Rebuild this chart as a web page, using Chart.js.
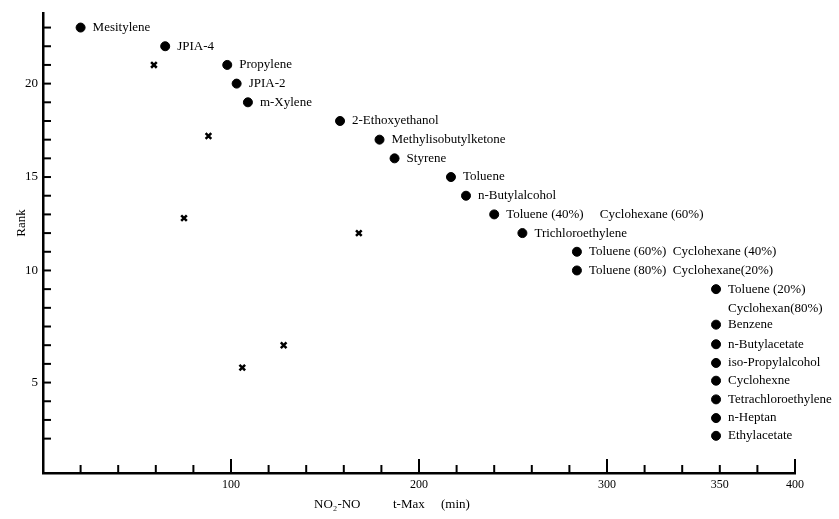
<!DOCTYPE html>
<html>
<head>
<meta charset="utf-8">
<script src="https://cdn.jsdelivr.net/npm/chart.js@4"></script>
<style>
  html, body { margin: 0; padding: 0; background: #fff; }
</style>
</head>
<body>
<canvas id="rank-chart" width="839" height="519"></canvas>
<script>
// solvents ranked by NO2-NO t-Max
const solvents = [
    'Mesitylene', 'JPIA-4', 'Propylene', 'JPIA-2', 'm-Xylene',
    '2-Ethoxyethanol', 'Methylisobutylketone', 'Styrene', 'Toluene', 'n-Butylalcohol',
    'Toluene (40%)     Cyclohexane (60%)', 'Trichloroethylene',
    'Toluene (60%)  Cyclohexane (40%)', 'Toluene (80%)  Cyclohexane(20%)',
    'Toluene (20%)\nCyclohexan(80%)', 'Benzene', 'n-Butylacetate', 'iso-Propylalcohol',
    'Cyclohexne', 'Tetrachloroethylene', 'n-Heptan', 'Ethylacetate'
];
const tMax = [20, 65, 98, 103, 109, 158, 179, 187, 217, 225, 240, 255, 284, 284, 358, 358, 358, 358, 358, 358, 358, 358];
const rank = [23, 22, 21, 20, 19, 18, 17, 16, 15, 14, 13, 12, 11, 10, 9, 7.1, 6.05, 5.05, 4.1, 3.1, 2.1, 1.15];

// the x marks
const crossT = [59, 88, 75, 168, 128, 106];
const crossRank = [21, 17.2, 12.8, 12, 6, 4.8];

const xTickValues = [100, 200, 300, 360, 400];
const xTickLabels = ['100', '200', '300', '350', '400'];
const xMarks = [20, 40, 60, 80, 100, 120, 140, 160, 180, 200, 220, 240, 260, 280, 300, 320, 340, 360, 380, 400];
const yTickValues = [4, 10, 15, 20];
const yTickLabels = ['5', '10', '15', '20'];
const yMarks = [1, 2, 3, 4, 5, 6, 7, 8, 9, 10, 11, 12, 13, 14, 15, 16, 17, 18, 19, 20, 21, 22, 23];

Chart.defaults.font.family = '"Liberation Serif", "DejaVu Serif", serif';
Chart.defaults.font.size = 12;
Chart.defaults.color = '#000';

// inward tick marks, point labels and axis titles
const inkPlugin = {
    id: 'ink',
    afterDraw(chart) {
        const ctx = chart.ctx;
        const xs = chart.scales.x, ys = chart.scales.y;
        const area = chart.chartArea;
        ctx.save();
        ctx.strokeStyle = '#000';
        ctx.lineWidth = 2;
        xMarks.forEach(v => {
            const px = xs.getPixelForValue(v);
            const len = v % 100 === 0 ? 14 : 8;
            ctx.beginPath();
            ctx.moveTo(px, area.bottom);
            ctx.lineTo(px, area.bottom - len);
            ctx.stroke();
        });
        yMarks.forEach(v => {
            const py = ys.getPixelForValue(v);
            ctx.beginPath();
            ctx.moveTo(area.left, py);
            ctx.lineTo(area.left + 8, py);
            ctx.stroke();
        });

        ctx.fillStyle = '#000';
        ctx.font = '13px "Liberation Serif", serif';
        ctx.textBaseline = 'middle';
        ctx.textAlign = 'left';
        chart.getDatasetMeta(0).data.forEach((pt, i) => {
            solvents[i].split('\n').forEach((line, k) => {
                ctx.fillText(line, pt.x + 12, pt.y + k * 19);
            });
        });

        ctx.textAlign = 'center';
        ctx.fillText('NO\u2082-NO          t-Max     (min)', 392, 505);
        ctx.translate(22, 223);
        ctx.rotate(-Math.PI / 2);
        ctx.fillText('Rank', 0, 0);
        ctx.restore();
    }
};

new Chart(document.getElementById('rank-chart').getContext('2d'), {
    type: 'scatter',
    data: {
        datasets: [
            {
                data: tMax.map((t, i) => ({ x: t, y: rank[i] })),
                pointStyle: 'circle',
                pointRadius: 4.5,
                backgroundColor: '#000',
                borderColor: '#000'
            },
            {
                data: crossT.map((t, i) => ({ x: t, y: crossRank[i] })),
                pointStyle: 'crossRot',
                pointRadius: 4,
                borderWidth: 2.5,
                borderColor: '#000'
            }
        ]
    },
    options: {
        responsive: false,
        animation: false,
        layout: { padding: { top: 5, right: 44, left: 0, bottom: 0 } },
        plugins: { legend: { display: false }, tooltip: { enabled: false } },
        scales: {
            x: {
                type: 'linear',
                min: 0,
                max: 400,
                afterBuildTicks: scale => { scale.ticks = xTickValues.map(v => ({ value: v })); },
                afterFit: scale => { scale.height = 46; },
                ticks: {
                    padding: 5,
                    maxRotation: 0,
                    autoSkip: false,
                    callback: v => xTickLabels[xTickValues.indexOf(v)]
                },
                grid: { drawOnChartArea: false, drawTicks: false },
                border: { color: '#000', width: 2.5 }
            },
            y: {
                type: 'linear',
                min: -0.84,
                max: 23.79,
                afterBuildTicks: scale => { scale.ticks = yTickValues.map(v => ({ value: v })); },
                afterFit: scale => { scale.width = 43; },
                ticks: {
                    padding: 5,
                    autoSkip: false,
                    font: { size: 13 },
                    callback: v => yTickLabels[yTickValues.indexOf(v)]
                },
                grid: { drawOnChartArea: false, drawTicks: false },
                border: { color: '#000', width: 2.5 }
            }
        }
    },
    plugins: [inkPlugin]
});
</script>
</body>
</html>
